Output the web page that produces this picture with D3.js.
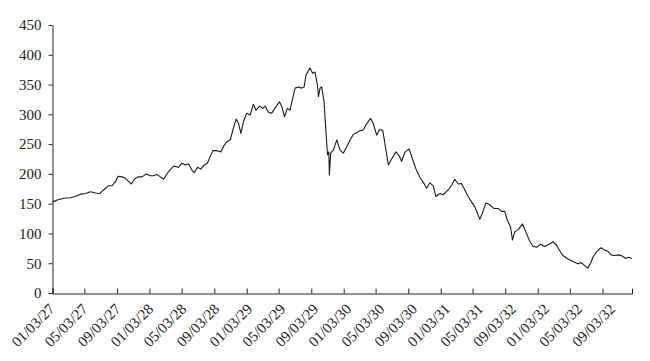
<!DOCTYPE html>
<html>
<head>
<meta charset="utf-8">
<script src="https://cdn.jsdelivr.net/npm/d3@7"></script>
<style>
  body { margin: 0; background: #fff; }
  svg { display: block; }
  .axis text { font-family: "Liberation Serif", "Times New Roman", serif; fill: #222; }
  .axis path, .axis line { stroke: #222; }
</style>
</head>
<body>
<div id="chart"></div>
<script>
// price series
const DATES = [
  "2027-01-03","2027-01-21","2027-02-14","2027-03-12","2027-03-30","2027-04-18","2027-05-07","2027-05-26",
  "2027-06-14","2027-06-30","2027-07-14","2027-08-01","2027-08-15","2027-08-28","2027-09-07","2027-09-22",
  "2027-10-04","2027-10-17","2027-10-27","2027-11-07","2027-11-20","2027-12-06","2027-12-22","2028-01-06",
  "2028-01-18","2028-01-31","2028-02-13","2028-02-25","2028-03-15","2028-04-03","2028-04-21","2028-05-04",
  "2028-05-17","2028-05-29","2028-06-11","2028-06-19","2028-07-02","2028-07-14","2028-07-27","2028-08-08",
  "2028-08-18","2028-08-29","2028-09-13","2028-09-28","2028-10-10","2028-10-20","2028-11-02","2028-11-12",
  "2028-11-24","2028-12-03","2028-12-12","2028-12-22","2029-01-03","2029-01-16","2029-01-28","2029-02-07",
  "2029-02-20","2029-03-05","2029-03-13","2029-03-26","2029-04-07","2029-04-23","2029-05-06","2029-05-15",
  "2029-05-25","2029-06-05","2029-06-15","2029-06-25","2029-07-04","2029-07-16","2029-07-29","2029-08-07",
  "2029-08-14","2029-08-23","2029-08-29","2029-09-08","2029-09-17","2029-09-26","2029-09-30","2029-10-06",
  "2029-10-12","2029-10-21","2029-10-29","2029-11-03","2029-11-08","2029-11-10","2029-11-15","2029-11-25",
  "2029-12-08","2029-12-20","2030-01-02","2030-01-14","2030-01-27","2030-02-08","2030-02-27","2030-03-18",
  "2030-03-30","2030-04-14","2030-04-24","2030-05-07","2030-05-17","2030-05-30","2030-06-07","2030-06-20",
  "2030-07-02","2030-07-19","2030-07-31","2030-08-09","2030-08-21","2030-09-06","2030-09-19","2030-10-02",
  "2030-10-17","2030-11-01","2030-11-11","2030-11-23","2030-12-06","2030-12-16","2030-12-31","2031-01-12",
  "2031-01-31","2031-02-13","2031-02-25","2031-03-10","2031-03-22","2031-04-04","2031-04-16","2031-04-29",
  "2031-05-11","2031-05-24","2031-05-30","2031-06-09","2031-06-22","2031-07-07","2031-07-22","2031-08-07",
  "2031-08-20","2031-09-01","2031-09-10","2031-09-23","2031-09-30","2031-10-09","2031-10-21","2031-11-07",
  "2031-11-19","2031-12-04","2031-12-17","2032-01-01","2032-01-13","2032-01-29","2032-02-15","2032-03-01",
  "2032-03-13","2032-03-26","2032-04-07","2032-04-26","2032-05-15","2032-06-02","2032-06-15","2032-06-28",
  "2032-07-10","2032-07-19","2032-07-29","2032-08-13","2032-08-29","2032-09-11","2032-09-23","2032-10-06",
  "2032-10-18","2032-11-03","2032-11-16","2032-11-29","2032-12-11","2032-12-23"
];

const VALUES = [
  153,156,159,160,162,166,167,170,
  168,167,173,180,180,187,196,195,
  193,187,183,191,195,195,200,197,
  197,199,195,191,204,213,211,218,
  215,217,206,202,211,208,215,218,
  229,239,239,237,248,254,257,274,
  292,285,268,288,302,299,317,307,
  314,310,314,303,302,313,321,313,
  296,310,307,327,344,346,344,346,
  366,373,378,369,371,349,330,344,
  346,321,265,232,237,198,235,240,
  257,240,235,245,257,266,271,274,
  284,293,285,265,274,273,251,215,
  225,237,230,221,236,242,225,208,
  194,184,176,185,180,162,167,165,
  173,181,191,183,184,173,162,153,
  145,131,124,134,151,148,142,142,
  137,137,123,111,89,103,106,116,
  103,87,78,77,82,78,82,86,
  81,71,63,57,53,49,51,46,
  42,49,60,70,76,72,70,64,
  63,64,62,58,60,58
];

const TICK_DATES = [
  "2027-01-03","2027-05-03","2027-09-03","2028-01-03","2028-05-03","2028-09-03",
  "2029-01-03","2029-05-03","2029-09-03","2030-01-03","2030-05-03","2030-09-03",
  "2031-01-03","2031-05-03","2031-09-03","2032-01-03","2032-05-03","2032-09-03"
];

const TICK_LABELS = [
  "01/03/27","05/03/27","09/03/27","01/03/28","05/03/28","09/03/28",
  "01/03/29","05/03/29","09/03/29","01/03/30","05/03/30","09/03/30",
  "01/03/31","05/03/31","09/03/32","01/03/32","05/03/32","09/03/32"
];

const Y_TICKS = [0, 50, 100, 150, 200, 250, 300, 350, 400, 450];

const width = 650;
const height = 361;
const marginLeft = 52.5;
const marginRight = 18;
const marginTop = 25;
const marginBottom = 68;

const parse = d3.timeParse("%Y-%m-%d");
const data = DATES.map((d, i) => ({ date: parse(d), value: VALUES[i] }));

const svg = d3.select("#chart").append("svg")
  .attr("width", width)
  .attr("height", height);

const x = d3.scaleTime()
  .domain([parse("2027-01-03"), parse("2032-12-23")])
  .range([marginLeft, width - marginRight]);

const y = d3.scaleLinear()
  .domain([0, 450])
  .range([height - marginBottom, marginTop]);

// labels sit on their own even spacing, slightly wider than the ticks
// (index domain because one label text appears twice)
const xLabel = d3.scalePoint()
  .domain(d3.range(TICK_LABELS.length))
  .range([marginLeft + 3, 616]);

svg.append("g")
  .attr("class", "axis")
  .attr("transform", `translate(0,${height - marginBottom + 0.5})`)
  .call(d3.axisBottom(x)
    .tickValues(TICK_DATES.map(parse))
    .tickSize(-5)
    .tickSizeOuter(-5)
    .tickFormat(""));

svg.append("g")
  .attr("class", "axis")
  .selectAll("text")
  .data(TICK_LABELS)
  .join("text")
  .attr("text-anchor", "end")
  .attr("font-size", 15)
  .attr("transform", (d, i) => `translate(${xLabel(i)},${height - marginBottom + 17}) rotate(-45)`)
  .text(d => d);

svg.append("g")
  .attr("class", "axis")
  .attr("transform", `translate(${marginLeft},0)`)
  .call(d3.axisLeft(y)
    .tickValues(Y_TICKS)
    .tickSize(4)
    .tickSizeOuter(0)
    .tickPadding(7))
  .call(g => g.selectAll("text").attr("font-size", 15));

svg.selectAll(".axis text").attr("font-family", "'Liberation Serif', serif");

const line = d3.line()
  .x(d => x(d.date))
  .y(d => y(d.value));

svg.append("path")
  .datum(data)
  .attr("fill", "none")
  .attr("stroke", "#1a1a1a")
  .attr("stroke-width", 1.1)
  .attr("stroke-linejoin", "round")
  .attr("d", line);
</script>
</body>
</html>
